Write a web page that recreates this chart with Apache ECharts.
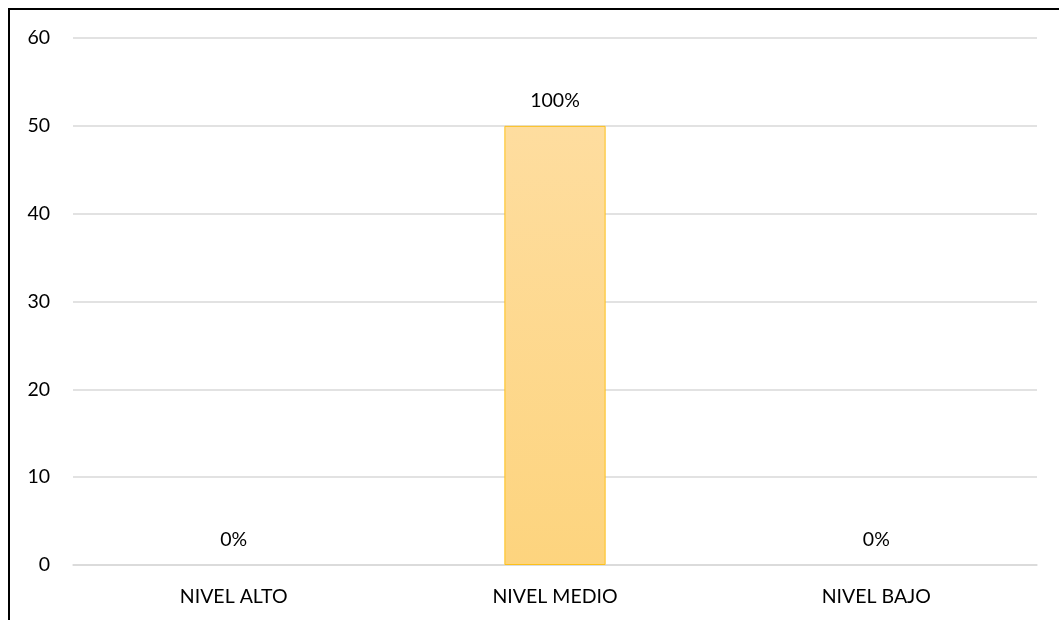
<!DOCTYPE html>
<html><head><meta charset="utf-8">
<script src="https://cdn.jsdelivr.net/npm/echarts@6/dist/echarts.min.js"></script>
<style>
html,body{margin:0;padding:0;background:#fff;overflow:hidden}
#frame{position:absolute;left:8px;top:8px;width:1060px;height:640px;border:2px solid #000;box-sizing:border-box}
#chart{position:absolute;left:0;top:0;width:1059px;height:620px}
</style></head><body>
<div id="frame"></div>
<div id="chart"></div>
<script>
const categories = ['NIVEL ALTO', 'NIVEL MEDIO', 'NIVEL BAJO'];
const values = [0, 50, 0];
const percentLabels = ['0%', '100%', '0%'];
const yTicks = [0, 10, 20, 30, 40, 50, 60];

const FONT = 'Lato';
const FS = 19.5;
const chart = echarts.init(document.getElementById('chart'), null, {renderer: 'canvas'});
chart.setOption({
  animation: false,
  grid: {left: 73, right: 22, top: 38, bottom: 55},
  xAxis: {
    type: 'category', data: categories,
    axisLine: {show: true, lineStyle: {color: '#d9d9d9', width: 1.5}},
    axisTick: {show: false},
    axisLabel: {color: '#000', fontFamily: FONT, fontSize: FS, margin: 22}
  },
  yAxis: {
    type: 'value', min: yTicks[0], max: yTicks[yTicks.length - 1], interval: 10,
    axisLine: {show: false}, axisTick: {show: false},
    splitLine: {lineStyle: {color: '#d9d9d9', width: 1.5}},
    axisLabel: {color: '#000', fontFamily: FONT, fontSize: FS, margin: 23}
  },
  series: [{
    type: 'bar', barWidth: '31.5%',
    data: values.map(v => ({value: v, itemStyle: {borderWidth: v === 0 ? 0 : 1}})),
    itemStyle: {
      color: new echarts.graphic.LinearGradient(0, 0, 0, 1, [
        {offset: 0, color: '#fedd9f'}, {offset: 1, color: '#fdd47e'}
      ]),
      borderColor: '#fdc01a', borderWidth: 1
    },
    label: {
      show: true, position: 'top', distance: 15,
      color: '#000', fontFamily: FONT, fontSize: FS,
      formatter: p => percentLabels[p.dataIndex]
    }
  }]
});
</script>
</body></html>
